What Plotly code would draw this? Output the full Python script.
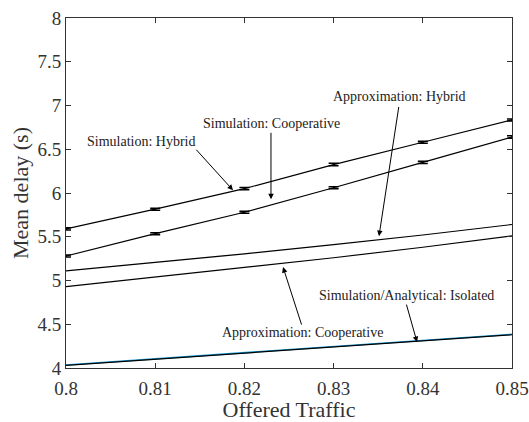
import plotly.graph_objects as go

traffic = [0.80, 0.81, 0.82, 0.83, 0.84, 0.85]
sim_hybrid = [5.59, 5.815, 6.05, 6.325, 6.58, 6.835]
sim_hybrid_err = [0.012, 0.012, 0.014, 0.014, 0.012, 0.012]
sim_coop = [5.28, 5.535, 5.78, 6.06, 6.35, 6.64]
sim_coop_err = [0.012, 0.012, 0.012, 0.012, 0.014, 0.014]
approx_hybrid = [5.11, 5.205, 5.305, 5.41, 5.52, 5.64]
approx_coop = [4.93, 5.04, 5.15, 5.26, 5.38, 5.51]
sim_isolated = [4.035, 4.105, 4.175, 4.245, 4.315, 4.385]
ana_isolated = [4.03, 4.10, 4.17, 4.24, 4.31, 4.38]

FONT = "Liberation Serif"
fig = go.Figure()

fig.add_trace(go.Scatter(x=traffic, y=sim_isolated, mode="lines",
                         line=dict(color="#1a9ad6", width=1.6)))
fig.add_trace(go.Scatter(x=traffic, y=ana_isolated, mode="lines",
                         line=dict(color="black", width=1.2)))
fig.add_trace(go.Scatter(x=traffic, y=approx_hybrid, mode="lines",
                         line=dict(color="black", width=1.2)))
fig.add_trace(go.Scatter(x=traffic, y=approx_coop, mode="lines",
                         line=dict(color="black", width=1.2)))
for vals, errs in [(sim_hybrid, sim_hybrid_err), (sim_coop, sim_coop_err)]:
    fig.add_trace(go.Scatter(x=traffic, y=vals, mode="lines",
                             line=dict(color="black", width=1.2),
                             error_y=dict(type="data", array=errs, visible=True,
                                          color="black", thickness=1.5, width=5)))

def ann_text(x, y, t):
    fig.add_annotation(x=x, y=y, text=t, showarrow=False, xref="x", yref="y",
                       font=dict(family=FONT, size=14, color="#222"))

def ann_arrow(x0, y0, x1, y1):
    fig.add_annotation(x=x1, y=y1, ax=x0, ay=y0, axref="x", ayref="y",
                       xref="x", yref="y", text="", showarrow=True,
                       arrowhead=2, arrowsize=1.1, arrowwidth=1, arrowcolor="black")

ann_text(0.80841, 6.591, "Simulation: Hybrid")
ann_arrow(0.81446, 6.511, 0.81872, 6.032)
ann_text(0.82309, 6.797, "Simulation: Cooperative")
ann_arrow(0.82298, 6.705, 0.82298, 5.929)
ann_text(0.83744, 7.105, "Approximation: Hybrid")
ann_arrow(0.83733, 7.0, 0.83509, 5.507)
ann_text(0.82646, 4.41, "Approximation: Cooperative")
ann_arrow(0.82646, 4.479, 0.82433, 5.153)
ann_text(0.83812, 4.833, "Simulation/Analytical: Isolated")
ann_arrow(0.83812, 4.742, 0.83935, 4.297)

axis_common = dict(showgrid=False, zeroline=False, showline=True, linecolor="#333",
                   linewidth=1, mirror="ticks", ticks="inside", ticklen=5,
                   automargin=False,
                   tickcolor="#333", tickfont=dict(family=FONT, size=19, color="#333"))
fig.update_xaxes(range=[0.8, 0.85], tickvals=traffic,
                 ticktext=["0.8", "0.81", "0.82", "0.83", "0.84", "0.85"],
                 ticklabelstandoff=3,
                 title=dict(text="Offered Traffic", font=dict(family=FONT, size=22, color="#333"),
                            standoff=3),
                 **axis_common)
fig.update_yaxes(range=[4, 8], tickvals=[4, 4.5, 5, 5.5, 6, 6.5, 7, 7.5, 8],
                 ticktext=["4", "4.5", "5", "5.5", "6", "6.5", "7", "7.5", "8"],
                 title=dict(text="Mean delay (s)", font=dict(family=FONT, size=22, color="#333"),
                            standoff=2),
                 **axis_common)
fig.update_layout(width=529, height=422, showlegend=False,
                  plot_bgcolor="white", paper_bgcolor="white",
                  margin=dict(l=66, r=17, t=18, b=54))
fig.write_html("out.html")
